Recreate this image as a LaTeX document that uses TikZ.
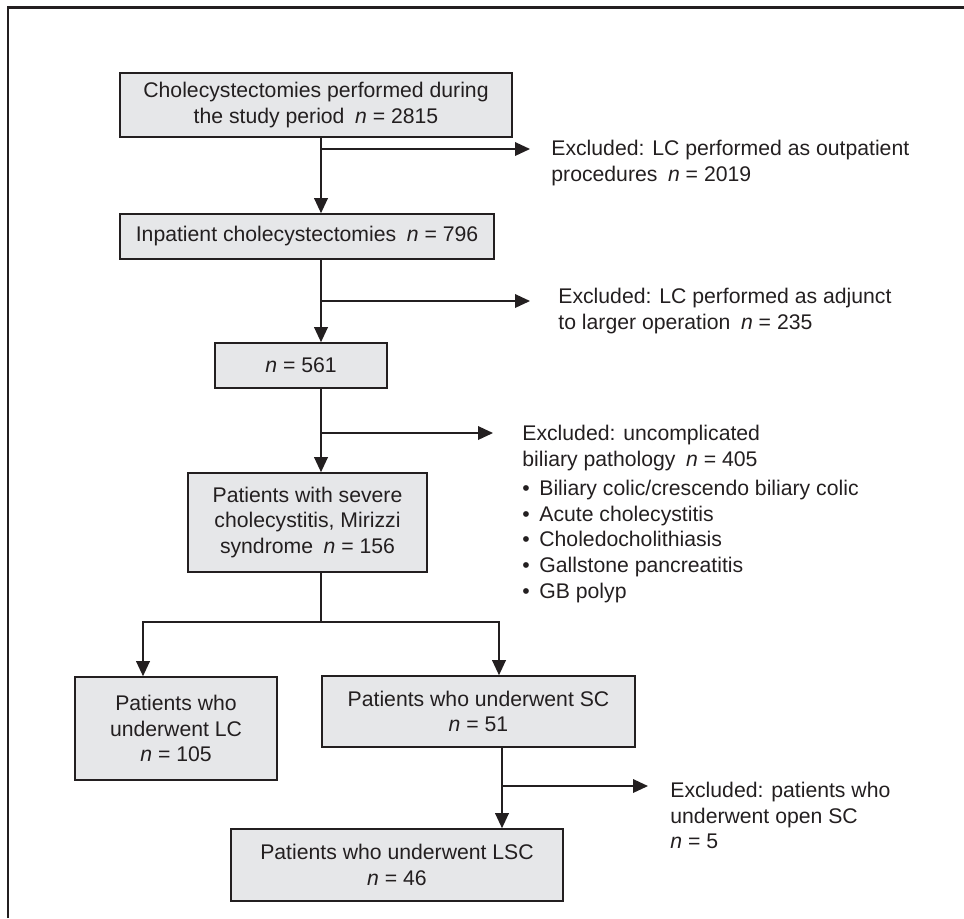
\documentclass[tikz,border=0pt]{standalone}
\usepackage{fontspec}
\setmainfont{Liberation Sans}
\usetikzlibrary{arrows.meta}
\definecolor{boxfill}{RGB}{230,231,233}
\definecolor{ink}{RGB}{35,31,32}
\begin{document}
\begin{tikzpicture}[x=0.5pt,y=-0.5pt,
  font=\fontsize{10.6}{12.8}\selectfont,
  flowbox/.style={draw=ink, fill=boxfill, line width=0.8pt, inner sep=0pt, align=center, text=ink},
  conn/.style={draw=ink, line width=0.8pt},
  arr/.style={conn, -{Triangle[length=7.5pt,width=6.8pt]}},
  note/.style={anchor=north west, inner sep=0pt, align=left, text=ink}]
\useasboundingbox (0,0) rectangle (964,918);
% frame
\draw[draw=ink, line width=1.1pt] (8,918) -- (8,7.5) -- (964,7.5);

% boxes
\node[flowbox, minimum width=196pt, minimum height=32pt] (b1) at (316,105)
  {Cholecystectomies performed during\\the study period\hspace{0.5em}\textit{n} = 2815};
\node[flowbox, minimum width=187pt, minimum height=22.5pt] (b2) at (307,236.5)
  {Inpatient cholecystectomies\hspace{0.5em}\textit{n} = 796};
\node[flowbox, minimum width=86pt, minimum height=22.5pt] (b3) at (301,365.5)
  {\textit{n} = 561};
\node[flowbox, minimum width=119.5pt, minimum height=49.5pt] (b4) at (307.5,522.5)
  {Patients with severe\\cholecystitis, Mirizzi\\syndrome\hspace{0.5em}\textit{n} = 156};
\node[flowbox, minimum width=101pt, minimum height=51.5pt] (b5) at (176,728.5)
  {Patients who\\underwent LC\\\textit{n} = 105};
\node[flowbox, minimum width=156.5pt, minimum height=35.5pt] (b6) at (478.5,711.5)
  {Patients who underwent SC\\\textit{n} = 51};
\node[flowbox, minimum width=166pt, minimum height=36pt] (b7) at (397,865)
  {Patients who underwent LSC\\\textit{n} = 46};

% exclusion texts
\node[note] (x1) at (551,140)
  {Excluded: LC performed as outpatient\\procedures\hspace{0.5em}\textit{n} = 2019};
\node[note] (x2) at (558,288)
  {Excluded: LC performed as adjunct\\to larger operation\hspace{0.5em}\textit{n} = 235};
\node[note] (x3) at (522,425)
  {Excluded: uncomplicated\\biliary pathology\hspace{0.5em}\textit{n} = 405};
\node[note] (x3b) at (522,480)
  {\makebox[8.5pt][l]{•}Biliary colic/crescendo biliary colic\\
   \makebox[8.5pt][l]{•}Acute cholecystitis\\
   \makebox[8.5pt][l]{•}Choledocholithiasis\\
   \makebox[8.5pt][l]{•}Gallstone pancreatitis\\
   \makebox[8.5pt][l]{•}GB polyp};
\node[note] (x4) at (670,782)
  {Excluded: patients who\\underwent open SC\\\textit{n} = 5};

% connectors
\coordinate (spine) at (321,0);
\coordinate (spine2) at (502,0);
\coordinate (lc) at (143,0);
\coordinate (sc) at (499,0);
\coordinate (j1) at (321,149);  \coordinate (t1) at (530,149);
\coordinate (j2) at (321,301);  \coordinate (t2) at (530,301);
\coordinate (j3) at (321,433);  \coordinate (t3) at (493,433);
\coordinate (split) at (321,622);
\coordinate (j4) at (502,786);  \coordinate (t4) at (648,786);

\draw[arr] (b1.south -| spine) -- (b2.north -| spine);
\draw[arr] (j1) -- (t1);
\draw[arr] (b2.south -| spine) -- (b3.north -| spine);
\draw[arr] (j2) -- (t2);
\draw[arr] (b3.south -| spine) -- (b4.north -| spine);
\draw[arr] (j3) -- (t3);
\draw[conn] (b4.south -| spine) -- (split);
\draw[arr] (split) -| (b5.north -| lc);
\draw[arr] (split) -| (b6.north -| sc);
\draw[arr] (b6.south -| spine2) -- (b7.north -| spine2);
\draw[arr] (j4) -- (t4);
\end{tikzpicture}
\end{document}
